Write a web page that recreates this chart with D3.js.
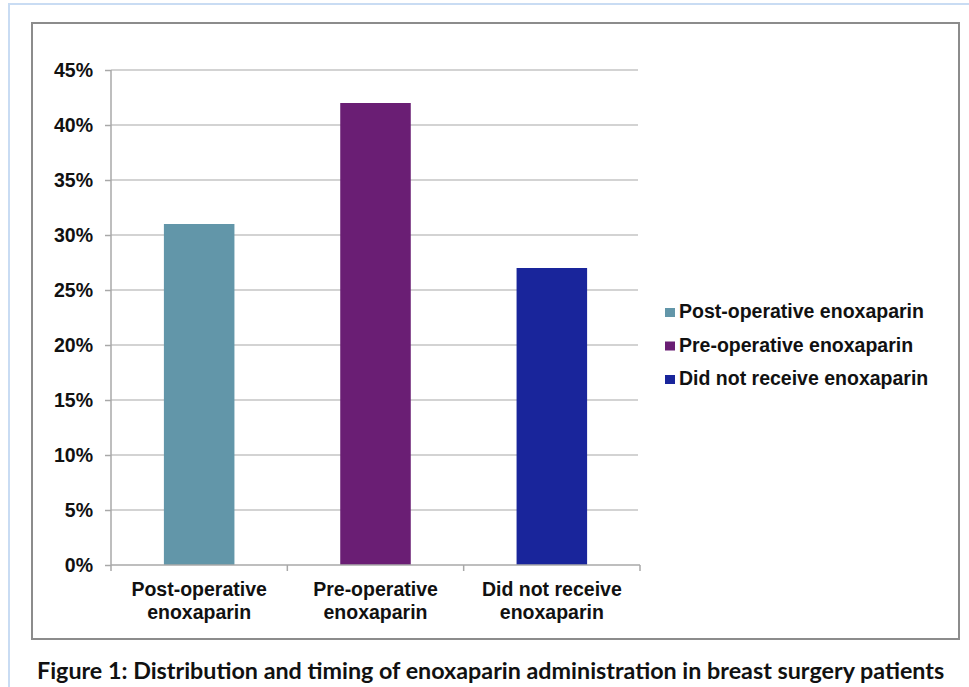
<!DOCTYPE html>
<html>
<head>
<meta charset="UTF-8">
<script src="https://d3js.org/d3.v7.min.js"></script>
<style>
  body { margin: 0; background: #fff; }
  .tick text { font-family: Arial, "Liberation Sans", sans-serif; font-weight: bold; font-size: 19.5px; fill: #111; }
  .legend text { font-family: Arial, "Liberation Sans", sans-serif; font-weight: bold; font-size: 19.5px; fill: #111; }
  .caption { font-family: Lato, "Open Sans", sans-serif; font-weight: bold; font-size: 23.3px; fill: #111; }
</style>
</head>
<body>
<svg width="969" height="687"></svg>
<script>
// data
const categories = ["Post-operative enoxaparin", "Pre-operative enoxaparin", "Did not receive enoxaparin"];
const catLines = [["Post-operative", "enoxaparin"], ["Pre-operative", "enoxaparin"], ["Did not receive", "enoxaparin"]];
const values = [0.31, 0.42, 0.27];
const colors = ["#6296a9", "#6a1e74", "#19259b"];
const yTicks = [0, 0.05, 0.10, 0.15, 0.20, 0.25, 0.30, 0.35, 0.40, 0.45];

const svg = d3.select("svg");

// outer page frame (light blue) and chart frame (gray)
svg.append("rect").attr("x", 9).attr("y", 4).attr("width", 1000).attr("height", 720)
  .attr("fill", "none").attr("stroke", "#c9dcf3").attr("stroke-width", 2);
svg.append("rect").attr("x", 32).attr("y", 23).attr("width", 927).attr("height", 616)
  .attr("fill", "#fff").attr("stroke", "#8c8c8c").attr("stroke-width", 2);

const plotL = 111, plotR = 640, plotT = 70, plotB = 565;

const x = d3.scaleBand().domain(categories).range([plotL, plotR]).paddingInner(0.6).paddingOuter(0.3);
const y = d3.scaleLinear().domain([0, 0.45]).range([plotB, plotT]);

// gridlines
svg.append("g").selectAll("line").data(yTicks.filter(d => d > 0)).join("line")
  .attr("x1", plotL).attr("x2", plotR - 2)
  .attr("y1", d => y(d)).attr("y2", d => y(d))
  .attr("stroke", "#c4c4c4").attr("stroke-width", 1.5);

// y axis
const yAxis = svg.append("g").attr("transform", `translate(${plotL},0)`)
  .call(d3.axisLeft(y).tickValues(yTicks).tickFormat(d3.format(".0%")).tickSize(6).tickPadding(12));
yAxis.selectAll("line, path").attr("stroke", "#a8a8a8").attr("stroke-width", 1.5);
yAxis.select(".domain").attr("d", `M0,${plotB}V${plotT}`);

// bars
svg.append("g").selectAll("rect").data(categories).join("rect")
  .attr("x", d => x(d))
  .attr("width", x.bandwidth())
  .attr("y", (d, i) => y(values[i]))
  .attr("height", (d, i) => y(0) - y(values[i]))
  .attr("fill", (d, i) => colors[i]);

// x axis with ticks between categories
const xAxis = svg.append("g").attr("transform", `translate(0,${plotB})`);
xAxis.append("line").attr("x1", plotL).attr("x2", plotR).attr("y1", 0).attr("y2", 0)
  .attr("stroke", "#a8a8a8").attr("stroke-width", 1.5);
xAxis.selectAll(".sep").data(d3.range(categories.length + 1)).join("line")
  .attr("x1", i => plotL + i * (plotR - plotL) / categories.length)
  .attr("x2", i => plotL + i * (plotR - plotL) / categories.length)
  .attr("y1", 0).attr("y2", 6)
  .attr("stroke", "#a8a8a8").attr("stroke-width", 1.5);
const labs = xAxis.selectAll(".tick").data(categories).join("g").attr("class", "tick")
  .attr("transform", d => `translate(${x(d) + x.bandwidth() / 2},0)`);
labs.append("text").attr("text-anchor", "middle")
  .selectAll("tspan").data((d, i) => catLines[i]).join("tspan")
  .attr("x", 0).attr("y", (d, j) => 31 + j * 23).text(d => d);

// legend
const legend = svg.append("g").attr("class", "legend").attr("transform", "translate(665,318)");
const item = legend.selectAll("g").data(categories).join("g")
  .attr("transform", (d, i) => `translate(0,${i * 33.5})`);
item.append("rect").attr("x", 0).attr("y", -10).attr("width", 10).attr("height", 9)
  .attr("fill", (d, i) => colors[i]);
item.append("text").attr("x", 14).attr("y", 0).text(d => d);

// caption
svg.append("text").attr("class", "caption").attr("x", 37).attr("y", 679)
  .text("Figure 1: Distribution and timing of enoxaparin administration in breast surgery patients");
</script>
</body>
</html>
